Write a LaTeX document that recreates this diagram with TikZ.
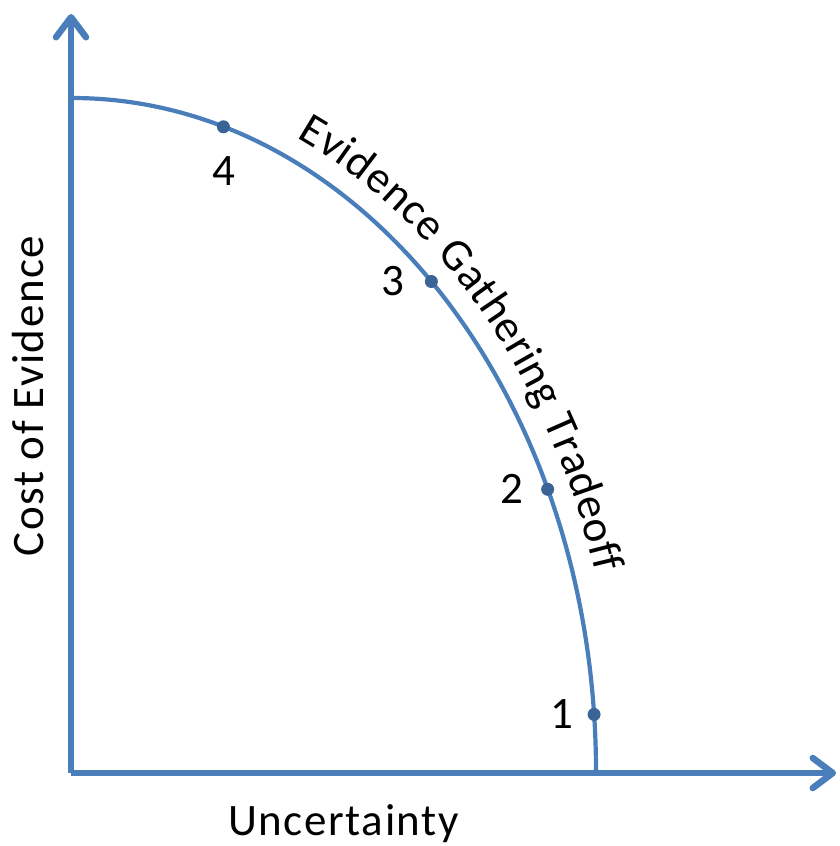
\documentclass[tikz,border=0pt]{standalone}
\usepackage{fontspec}
\setmainfont{Carlito}
\newfontfamily\lblfont{Carlito}[LetterSpace=3.5]
\usetikzlibrary{arrows.meta, positioning, decorations.text}
\definecolor{lineblue}{HTML}{4A7EBB}
\definecolor{dotblue}{HTML}{3A6496}

\begin{document}
\begin{tikzpicture}[
        x=1pt, y=-1pt,
        axis/.style={line width=6.5pt, draw=lineblue, -{Straight Barb[length=20pt, width=30pt, round]}},
        curve/.style={line width=4.2pt, draw=lineblue},
        dot/.style={circle, fill=dotblue, inner sep=0pt, minimum size=13pt},
        lbl/.style={font=\lblfont\fontsize{45}{54}\selectfont, inner sep=0pt}
    ]
        \useasboundingbox (0,0) rectangle (840,846);
        \coordinate (O) at (71,773);
        \coordinate (ytip) at (71,14);
        \coordinate (xtip) at (836,773);

        % the tradeoff curve and its title
        \draw[curve] (72,98) arc[start angle=-90, end angle=0, x radius=524, y radius=674];
        \path[decorate, decoration={text along path, raise=22pt,
            text={|\lblfont\fontsize{45}{54}\selectfont|Evidence Gathering Tradeoff}}]
            ({72+524*cos(-66)},{772+674*sin(-66)}) arc[start angle=-66, end angle=0, x radius=524, y radius=674];

        \draw[axis] (O) -- (ytip);
        \draw[axis] (O) -- (xtip);

        \foreach \a/\n in {-4.9/1, -24.8/2, -46.7/3, -73.2/4}
            \node[dot] (p\n) at ({72+524*cos(\a)},{772+674*sin(\a)}) {};

        \node[lbl, below=23pt of p4] (n4) {4};
        \node[lbl, left=20pt of p3] (n3) {3};
        \node[lbl, left=17pt of p2] (n2) {2};
        \node[lbl, left=14pt of p1] (n1) {1};

        \node[lbl, anchor=base] (xlab) at (343.5,835) {Uncertainty};
        \node[lbl, rotate=90, anchor=base] (ylab) at (43,396) {Cost of Evidence};
    \end{tikzpicture}
\end{document}
